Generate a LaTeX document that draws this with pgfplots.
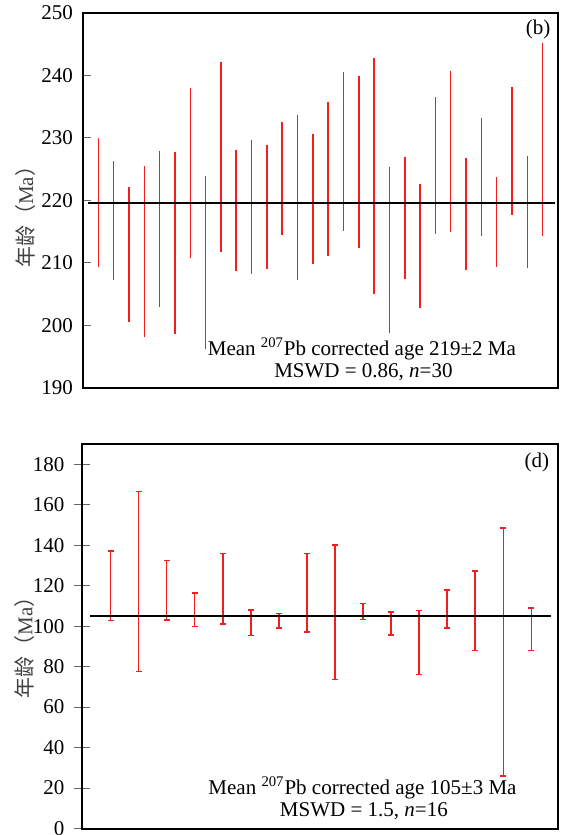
\documentclass[border=0pt]{standalone}
\usepackage{pgfplots}
\pgfplotsset{compat=1.18}
\usepackage{pgfplotstable}
\usepackage{fontspec}
\setmainfont{Liberation Serif}
\newfontfamily\cjk{Noto Sans CJK SC}

\pgfplotstableread{
x lo hi
1 209.3 230.0
2 207.3 226.3
3 200.6 222.2
4 198.2 225.6
5 203.0 227.9
6 198.7 227.8
7 210.8 238.0
8 196.3 224.0
9 211.7 242.2
10 208.7 228.1
11 208.3 229.7
12 209.0 228.9
13 214.5 232.5
14 207.3 233.6
15 209.8 230.7
16 211.1 235.7
17 215.1 240.5
18 212.4 239.9
19 205.0 242.8
20 198.8 225.3
21 207.5 227.0
22 202.8 222.6
23 214.7 236.5
24 215.0 240.7
25 208.9 226.8
26 214.4 233.2
27 209.3 223.7
28 217.7 238.2
29 209.2 227.1
30 214.3 245.2
}\tabB

\pgfplotstableread{
x lo hi
1 102.7 137.1
2 77.7 166.6
3 103.1 132.5
4 99.8 116.4
5 101.1 135.8
6 95.3 108.0
7 99.0 106.2
8 97.1 135.8
9 73.6 140.2
10 103.4 111.1
11 95.7 107.0
12 76.2 107.7
13 99.1 117.9
14 87.9 127.3
15 26.0 148.5
16 87.9 109.0
}\tabD

\definecolor{barred}{RGB}{240,30,30}

\pgfplotsset{
  myaxis/.style={
    scale only axis,
    axis line style={line width=1pt},
    xtick=\empty,
    ytick pos=left,
    /pgf/number format/assume math mode=true,
    ytick style={black!60, line width=0.5pt},
    yticklabel style={font=\fontsize{10.5}{12}\selectfont, xshift=-1.5pt},
    ylabel={{\cjk 年龄（}Ma{\cjk ）}},
    ylabel style={anchor=center, text=black!75, font=\fontsize{10.5}{12}\selectfont},
    clip=false,
  }
}

\begin{document}
\begin{tikzpicture}
\useasboundingbox (-41.5pt,-223.5pt) rectangle (241.5pt,194pt);

\begin{axis}[myaxis,
  at={(0pt,0pt)}, anchor=south west,
  width=237.5pt, height=187.5pt,
  xmin=0, xmax=31, ymin=190, ymax=250,
  ytick={190,200,...,250},
  tick align=inside, major tick length=4pt,
  ylabel style={at={(axis description cs:-0.122,0.47)}},
]
\addplot[draw=none, mark=none,
  error bars/.cd, y dir=both, y explicit, error mark=none,
  error bar style={draw=barred, solid, line width=0.75pt}]
  table[x=x, y expr={(\thisrow{lo}+\thisrow{hi})/2}, y error expr={(\thisrow{hi}-\thisrow{lo})/2}] {\tabB};
\addplot[black, line width=1pt, mark=none] coordinates {(0.35,219.55) (30.8,219.55)};
\begin{scope}[font=\fontsize{10.5}{12}\selectfont]
\node[anchor=base] at (axis cs:18.2,195.2) {Mean \textsuperscript{207}Pb corrected age 219±2 Ma};
\node[anchor=base] at (axis cs:18.3,191.7) {MSWD = 0.86, \textit{n}=30};
\node at (axis cs:29.7,247.3) {(b)};
\end{scope}
\end{axis}

\begin{axis}[myaxis,
  at={(-0.25pt,-220.25pt)}, anchor=south west,
  width=237.75pt, height=192.25pt,
  xmin=0, xmax=16.95, ymin=0, ymax=190,
  ytick={0,20,...,180},
  tick align=center, major tick length=8pt,
  ylabel style={at={(axis description cs:-0.122,0.485)}},
]
\addplot[draw=none, mark=none,
  error bars/.cd, y dir=both, y explicit, error mark=-,
  error mark options={draw=barred, line width=0.75pt, mark size=1.5pt, rotate=90},
  error bar style={draw=barred, solid, line width=0.75pt}]
  table[x=x, y expr={(\thisrow{lo}+\thisrow{hi})/2}, y error expr={(\thisrow{hi}-\thisrow{lo})/2}] {\tabD};
\addplot[black, line width=1pt, mark=none] coordinates {(0.28,105) (16.7,105)};
\begin{scope}[font=\fontsize{10.5}{12}\selectfont]
\node[anchor=base] at (axis cs:9.98,16.6) {Mean \textsuperscript{207}Pb corrected age 105±3 Ma};
\node[anchor=base] at (axis cs:10.03,6.0) {MSWD = 1.5, \textit{n}=16};
\node at (axis cs:16.2,180.7) {(d)};
\end{scope}
\end{axis}
\end{tikzpicture}
\end{document}
